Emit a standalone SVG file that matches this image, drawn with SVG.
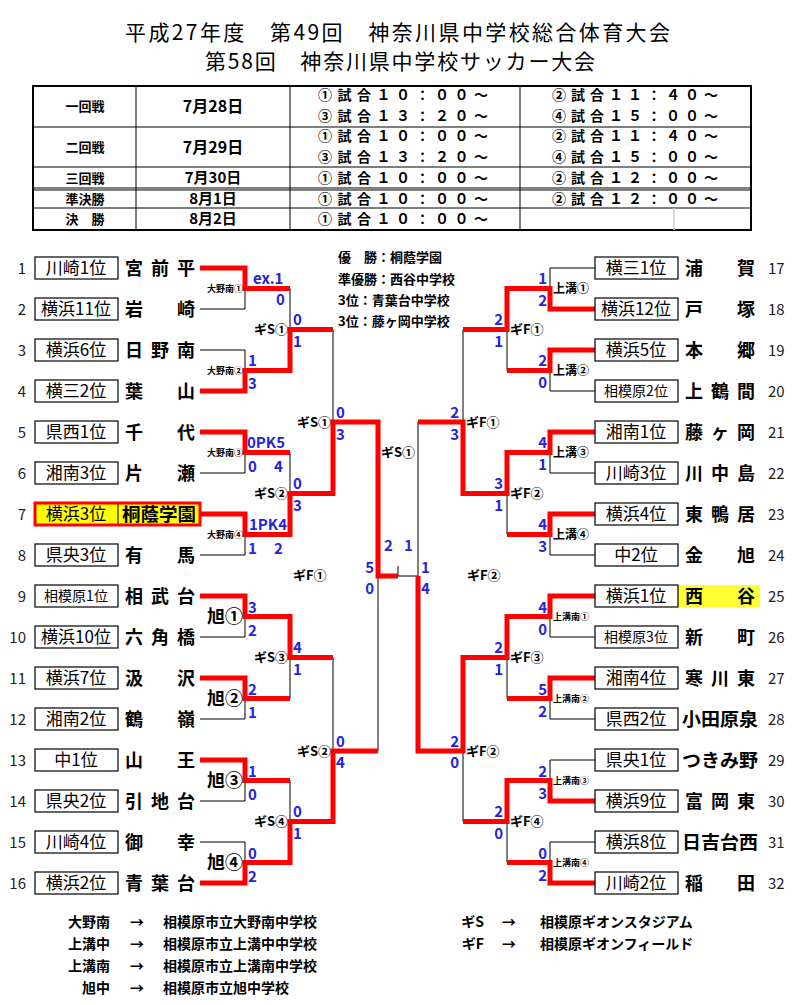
<svg xmlns="http://www.w3.org/2000/svg" width="800" height="1005" viewBox="0 0 800 1005">
<style>
text{font-family:"Noto Sans CJK JP","Liberation Sans",sans-serif;fill:#000}
.t{font-size:21px}
.h{font-size:13px;font-weight:bold}
.d{font-size:16px;font-weight:bold}
.d2{font-size:15px;font-weight:bold}
.g{font-size:14px;font-weight:bold}
.n{font-size:15px;fill:#222}
.bx{font-size:17px;text-anchor:middle}
.bxs{font-size:14px;text-anchor:middle}
.nm{font-size:18px;font-weight:bold}
.s{font-size:15px;font-weight:bold;fill:#2424e0}
.se{font-size:15px;font-weight:bold;fill:#2424e0;text-anchor:end}
.vs{font-size:9px;font-weight:bold}
.vm{font-size:12px;font-weight:bold}
.va{font-size:18px;font-weight:bold}
.v{font-size:13px;font-weight:bold}
.c{font-size:13px;font-weight:bold}
.lg{font-size:14px;font-weight:bold}
.bk{fill:none;stroke:#000;stroke-width:1}
.rd{fill:none;stroke:#ff0000;stroke-width:5;stroke-linejoin:miter}
.box{fill:#fff;stroke:#000;stroke-width:1.2}
</style>
<g id="title">
<text class="t" x="125" y="40" textLength="545" lengthAdjust="spacing">平成27年度　第49回　神奈川県中学校総合体育大会</text>
<text class="t" x="205" y="69" textLength="390" lengthAdjust="spacing">第58回　神奈川県中学校サッカー大会</text>
</g>
<g id="schedule">
<rect x="33" y="86" width="718" height="144" fill="none" stroke="#000" stroke-width="2"/>
<path class="bk" d="M33,127 H751 M33,167 H751 M33,188 H751 M33,190 H751 M33,208 H751 M136,86 V230 M290,86 V230 M520,86 V230"/>
<path d="M674,208 V230" stroke="#ccd" stroke-width="1.5"/>
<text class="h" x="85" y="111" text-anchor="middle">一回戦</text>
<text class="h" x="85" y="152" text-anchor="middle">二回戦</text>
<text class="h" x="85" y="183" text-anchor="middle">三回戦</text>
<text class="h" x="85" y="204" text-anchor="middle">準決勝</text>
<text class="h" x="85" y="224" text-anchor="middle">決　勝</text>
<text class="d" x="213" y="112" text-anchor="middle">7月28日</text>
<text class="d" x="213" y="153" text-anchor="middle">7月29日</text>
<text class="d2" x="213" y="183" text-anchor="middle">7月30日</text>
<text class="d2" x="213" y="204" text-anchor="middle">8月1日</text>
<text class="d2" x="213" y="224" text-anchor="middle">8月2日</text>
<text class="g" x="318" y="100" textLength="170" lengthAdjust="spacing">①試合１０：００～</text>
<text class="g" x="318" y="121" textLength="170" lengthAdjust="spacing">③試合１３：２０～</text>
<text class="g" x="318" y="141" textLength="170" lengthAdjust="spacing">①試合１０：００～</text>
<text class="g" x="318" y="162" textLength="170" lengthAdjust="spacing">③試合１３：２０～</text>
<text class="g" x="318" y="183" textLength="170" lengthAdjust="spacing">①試合１０：００～</text>
<text class="g" x="318" y="204" textLength="170" lengthAdjust="spacing">①試合１０：００～</text>
<text class="g" x="318" y="224" textLength="170" lengthAdjust="spacing">①試合１０：００～</text>
<text class="g" x="552" y="100" textLength="166" lengthAdjust="spacing">②試合１１：４０～</text>
<text class="g" x="552" y="121" textLength="166" lengthAdjust="spacing">④試合１５：００～</text>
<text class="g" x="552" y="141" textLength="166" lengthAdjust="spacing">②試合１１：４０～</text>
<text class="g" x="552" y="162" textLength="166" lengthAdjust="spacing">④試合１５：００～</text>
<text class="g" x="552" y="183" textLength="166" lengthAdjust="spacing">②試合１２：００～</text>
<text class="g" x="552" y="204" textLength="166" lengthAdjust="spacing">②試合１２：００～</text>
</g>
<g id="results">
<text class="h" x="338" y="262" font-size="14">優　勝：桐蔭学園</text>
<text class="c" x="338" y="284" font-size="12">準優勝：西谷中学校</text>
<text class="c" x="338" y="305">3位：青葉台中学校</text>
<text class="c" x="338" y="326">3位：藤ヶ岡中学校</text>
</g>
<g id="connectors">
<path class="bk" d="M200,268 H245 V309 H200 M245,288.5 H290 M200,350 H245 V391 H200 M245,370.5 H290 M200,432 H245 V473 H200 M245,452.5 H290 M200,514 H245 V555 H200 M245,534.5 H290 M200,596 H245 V637 H200 M245,616.5 H290 M200,678 H245 V719 H200 M245,698.5 H290 M200,760 H245 V801 H200 M245,780.5 H290 M200,842 H245 V883 H200 M245,862.5 H290
M290,288.5 V370.5 M290,329.5 H333 M290,452.5 V534.5 M290,493.5 H333 M290,616.5 V698.5 M290,657.5 H333 M290,780.5 V862.5 M290,821.5 H333
M333,329.5 V493.5 M333,422 H378 M333,657.5 V821.5 M333,751 H378 M378,422 V751 M378,576 H418 M398,566 V576 M418,422 V751
M595,268 H550 V309 H595 M550,288.5 H507 M595,350 H550 V391 H595 M550,370.5 H507 M595,432 H550 V473 H595 M550,452.5 H507 M595,514 H550 V555 H595 M550,534.5 H507 M595,596 H550 V637 H595 M550,616.5 H507 M595,678 H550 V719 H595 M550,698.5 H507 M595,760 H550 V801 H595 M550,780.5 H507 M595,842 H550 V883 H595 M550,862.5 H507
M507,288.5 V370.5 M507,329.5 H463 M507,452.5 V534.5 M507,493.5 H463 M507,616.5 V698.5 M507,657.5 H463 M507,780.5 V862.5 M507,821.5 H463
M463,329.5 V493.5 M463,422 H418 M463,657.5 V821.5 M463,751 H418"/>
<path class="rd" d="M200,268 H245 V288.5 H290"/>
<path class="rd" d="M200,391 H245 V370.5 H290 V329.5 H333"/>
<path class="rd" d="M200,432 H245 V452.5 H290"/>
<path class="rd" d="M200,514 H245 V534.5 H290 V493.5 H333 V422 H378 V576 H398"/>
<path class="rd" d="M200,596 H245 V616.5 H290 V657.5 H333"/>
<path class="rd" d="M200,678 H245 V698.5 H290"/>
<path class="rd" d="M200,760 H245 V780.5 H290"/>
<path class="rd" d="M200,883 H245 V862.5 H290 V821.5 H333 V751 H378"/>
<path class="rd" d="M595,309 H550 V288.5 H507 V329.5 H463"/>
<path class="rd" d="M595,350 H550 V370.5 H507"/>
<path class="rd" d="M595,432 H550 V452.5 H507 V493.5 H463 V422 H418"/>
<path class="rd" d="M595,514 H550 V534.5 H507"/>
<path class="rd" d="M595,596 H550 V616.5 H507 V657.5 H463 V751 H418 V576"/>
<path class="rd" d="M595,678 H550 V698.5 H507"/>
<path class="rd" d="M595,801 H550 V780.5 H507 V821.5 H463"/>
<path class="rd" d="M595,883 H550 V862.5 H507"/>
</g>
<g id="scores">
<text class="s" x="253" y="284">ex.1</text><text class="s" x="276" y="305">0</text>
<text class="s" x="248" y="366">1</text><text class="s" x="248" y="389">3</text>
<text class="s" x="247" y="448">0PK5</text><text class="s" x="248" y="472">0</text><text class="s" x="274" y="472">4</text>
<text class="s" x="249" y="530">1PK4</text><text class="s" x="248" y="554">1</text><text class="s" x="274" y="554">2</text>
<text class="s" x="248" y="613">3</text><text class="s" x="248" y="636">2</text>
<text class="s" x="248" y="695">2</text><text class="s" x="248" y="718">1</text>
<text class="s" x="248" y="777">1</text><text class="s" x="248" y="800">0</text>
<text class="s" x="248" y="859">0</text><text class="s" x="248" y="882">2</text>
<text class="s" x="293" y="325">0</text><text class="s" x="293" y="347">1</text>
<text class="s" x="293" y="489">0</text><text class="s" x="293" y="511">3</text>
<text class="s" x="293" y="653">4</text><text class="s" x="293" y="675">1</text>
<text class="s" x="293" y="817">0</text><text class="s" x="293" y="839">1</text>
<text class="s" x="336" y="418">0</text><text class="s" x="336" y="440">3</text>
<text class="s" x="336" y="747">0</text><text class="s" x="336" y="768">4</text>
<text class="se" x="374" y="573">5</text><text class="se" x="374" y="594">0</text>
<text class="s" x="384" y="551">2</text><text class="s" x="404" y="551">1</text>
<text class="s" x="421" y="573">1</text><text class="s" x="421" y="594">4</text>
<text class="se" x="547" y="284">1</text><text class="se" x="547" y="306">2</text>
<text class="se" x="547" y="366">2</text><text class="se" x="547" y="388">0</text>
<text class="se" x="547" y="448">4</text><text class="se" x="547" y="470">1</text>
<text class="se" x="547" y="530">4</text><text class="se" x="547" y="552">3</text>
<text class="se" x="547" y="613">4</text><text class="se" x="547" y="635">0</text>
<text class="se" x="547" y="695">5</text><text class="se" x="547" y="717">2</text>
<text class="se" x="547" y="777">2</text><text class="se" x="547" y="799">3</text>
<text class="se" x="547" y="859">0</text><text class="se" x="547" y="881">2</text>
<text class="se" x="503" y="325">2</text><text class="se" x="503" y="347">1</text>
<text class="se" x="503" y="489">3</text><text class="se" x="503" y="511">1</text>
<text class="se" x="503" y="653">2</text><text class="se" x="503" y="675">1</text>
<text class="se" x="503" y="817">2</text><text class="se" x="503" y="839">0</text>
<text class="se" x="459" y="418">2</text><text class="se" x="459" y="440">3</text>
<text class="se" x="459" y="747">2</text><text class="se" x="459" y="768">0</text>
</g>
<g id="venues">
<text class="vs" x="243" y="292" text-anchor="end">大野南①</text>
<text class="vs" x="243" y="374" text-anchor="end">大野南②</text>
<text class="vs" x="243" y="456" text-anchor="end">大野南③</text>
<text class="vs" x="243" y="538" text-anchor="end">大野南④</text>
<text class="va" x="243" y="623" text-anchor="end">旭①</text>
<text class="va" x="243" y="705" text-anchor="end">旭②</text>
<text class="va" x="243" y="787" text-anchor="end">旭③</text>
<text class="va" x="243" y="869" text-anchor="end">旭④</text>
<text class="v" x="288" y="334" text-anchor="end">ギS①</text>
<text class="v" x="288" y="498" text-anchor="end">ギS②</text>
<text class="v" x="288" y="662" text-anchor="end">ギS③</text>
<text class="v" x="288" y="826" text-anchor="end">ギS④</text>
<text class="v" x="331" y="427" text-anchor="end">ギS①</text>
<text class="v" x="331" y="756" text-anchor="end">ギS②</text>
<text class="v" x="398" y="457" text-anchor="middle">ギS①</text>
<text class="v" x="293" y="580">ギF①</text>
<text class="v" x="467" y="580">ギF②</text>
<text class="vm" x="553" y="293">上溝①</text>
<text class="vm" x="553" y="375">上溝②</text>
<text class="vm" x="553" y="457">上溝③</text>
<text class="vm" x="553" y="539">上溝④</text>
<text class="vs" x="553" y="620">上溝南①</text>
<text class="vs" x="553" y="702">上溝南②</text>
<text class="vs" x="553" y="784">上溝南③</text>
<text class="vs" x="553" y="866">上溝南④</text>
<text class="v" x="510" y="334">ギF①</text>
<text class="v" x="510" y="498">ギF②</text>
<text class="v" x="510" y="662">ギF③</text>
<text class="v" x="510" y="826">ギF④</text>
<text class="v" x="466" y="427">ギF①</text>
<text class="v" x="466" y="756">ギF②</text>
</g>
<g id="team1"><text class="n" x="26" y="274" text-anchor="end">1</text><rect class="box" x="35" y="257" width="83" height="22"/><text class="bx" x="76" y="274">川崎1位</text><text class="nm" x="125" y="275" textLength="70" lengthAdjust="spacing">宮前平</text></g>
<g id="team2"><text class="n" x="26" y="315" text-anchor="end">2</text><rect class="box" x="35" y="298" width="83" height="22"/><text class="bx" x="76" y="315">横浜11位</text><text class="nm" x="125" y="316" textLength="70" lengthAdjust="spacing">岩崎</text></g>
<g id="team3"><text class="n" x="26" y="356" text-anchor="end">3</text><rect class="box" x="35" y="339" width="83" height="22"/><text class="bx" x="76" y="356">横浜6位</text><text class="nm" x="125" y="357" textLength="70" lengthAdjust="spacing">日野南</text></g>
<g id="team4"><text class="n" x="26" y="397" text-anchor="end">4</text><rect class="box" x="35" y="380" width="83" height="22"/><text class="bx" x="76" y="397">横三2位</text><text class="nm" x="125" y="398" textLength="70" lengthAdjust="spacing">葉山</text></g>
<g id="team5"><text class="n" x="26" y="438" text-anchor="end">5</text><rect class="box" x="35" y="421" width="83" height="22"/><text class="bx" x="76" y="438">県西1位</text><text class="nm" x="125" y="439" textLength="70" lengthAdjust="spacing">千代</text></g>
<g id="team6"><text class="n" x="26" y="479" text-anchor="end">6</text><rect class="box" x="35" y="462" width="83" height="22"/><text class="bx" x="76" y="479">湘南3位</text><text class="nm" x="125" y="480" textLength="70" lengthAdjust="spacing">片瀬</text></g>
<g id="team7"><text class="n" x="26" y="520" text-anchor="end">7</text><rect x="35" y="503" width="165" height="22" fill="#ffff00" stroke="#ff0000" stroke-width="3"/><path d="M118,504 V524" stroke="#000" stroke-width="1"/><text class="bx" x="76" y="520">横浜3位</text><text class="nm" x="122" y="521" font-size="16" textLength="74" lengthAdjust="spacingAndGlyphs">桐蔭学園</text></g>
<g id="team8"><text class="n" x="26" y="561" text-anchor="end">8</text><rect class="box" x="35" y="544" width="83" height="22"/><text class="bx" x="76" y="561">県央3位</text><text class="nm" x="125" y="562" textLength="70" lengthAdjust="spacing">有馬</text></g>
<g id="team9"><text class="n" x="26" y="602" text-anchor="end">9</text><rect class="box" x="35" y="585" width="83" height="22"/><text class="bxs" x="76" y="601">相模原1位</text><text class="nm" x="125" y="603" textLength="70" lengthAdjust="spacing">相武台</text></g>
<g id="team10"><text class="n" x="26" y="643" text-anchor="end">10</text><rect class="box" x="35" y="626" width="83" height="22"/><text class="bx" x="76" y="643">横浜10位</text><text class="nm" x="125" y="644" textLength="70" lengthAdjust="spacing">六角橋</text></g>
<g id="team11"><text class="n" x="26" y="684" text-anchor="end">11</text><rect class="box" x="35" y="667" width="83" height="22"/><text class="bx" x="76" y="684">横浜7位</text><text class="nm" x="125" y="685" textLength="70" lengthAdjust="spacing">汲沢</text></g>
<g id="team12"><text class="n" x="26" y="725" text-anchor="end">12</text><rect class="box" x="35" y="708" width="83" height="22"/><text class="bx" x="76" y="725">湘南2位</text><text class="nm" x="125" y="726" textLength="70" lengthAdjust="spacing">鶴嶺</text></g>
<g id="team13"><text class="n" x="26" y="766" text-anchor="end">13</text><rect class="box" x="35" y="749" width="83" height="22"/><text class="bx" x="76" y="766">中1位</text><text class="nm" x="125" y="767" textLength="70" lengthAdjust="spacing">山王</text></g>
<g id="team14"><text class="n" x="26" y="807" text-anchor="end">14</text><rect class="box" x="35" y="790" width="83" height="22"/><text class="bx" x="76" y="807">県央2位</text><text class="nm" x="125" y="808" textLength="70" lengthAdjust="spacing">引地台</text></g>
<g id="team15"><text class="n" x="26" y="848" text-anchor="end">15</text><rect class="box" x="35" y="831" width="83" height="22"/><text class="bx" x="76" y="848">川崎4位</text><text class="nm" x="125" y="849" textLength="70" lengthAdjust="spacing">御幸</text></g>
<g id="team16"><text class="n" x="26" y="889" text-anchor="end">16</text><rect class="box" x="35" y="872" width="83" height="22"/><text class="bx" x="76" y="889">横浜2位</text><text class="nm" x="125" y="890" textLength="70" lengthAdjust="spacing">青葉台</text></g>
<g id="team17"><rect class="box" x="595" y="257" width="83" height="22"/><text class="bx" x="636" y="274">横三1位</text><text class="nm" x="685" y="275" textLength="70" lengthAdjust="spacing">浦賀</text><text class="n" x="768" y="274">17</text></g>
<g id="team18"><rect class="box" x="595" y="298" width="83" height="22"/><text class="bx" x="636" y="315">横浜12位</text><text class="nm" x="685" y="316" textLength="70" lengthAdjust="spacing">戸塚</text><text class="n" x="768" y="315">18</text></g>
<g id="team19"><rect class="box" x="595" y="339" width="83" height="22"/><text class="bx" x="636" y="356">横浜5位</text><text class="nm" x="685" y="357" textLength="70" lengthAdjust="spacing">本郷</text><text class="n" x="768" y="356">19</text></g>
<g id="team20"><rect class="box" x="595" y="380" width="83" height="22"/><text class="bxs" x="636" y="396">相模原2位</text><text class="nm" x="685" y="398" textLength="70" lengthAdjust="spacing">上鶴間</text><text class="n" x="768" y="397">20</text></g>
<g id="team21"><rect class="box" x="595" y="421" width="83" height="22"/><text class="bx" x="636" y="438">湘南1位</text><text class="nm" x="685" y="439" textLength="70" lengthAdjust="spacing">藤ヶ岡</text><text class="n" x="768" y="438">21</text></g>
<g id="team22"><rect class="box" x="595" y="462" width="83" height="22"/><text class="bx" x="636" y="479">川崎3位</text><text class="nm" x="685" y="480" textLength="70" lengthAdjust="spacing">川中島</text><text class="n" x="768" y="479">22</text></g>
<g id="team23"><rect class="box" x="595" y="503" width="83" height="22"/><text class="bx" x="636" y="520">横浜4位</text><text class="nm" x="685" y="521" textLength="70" lengthAdjust="spacing">東鴨居</text><text class="n" x="768" y="520">23</text></g>
<g id="team24"><rect class="box" x="595" y="544" width="83" height="22"/><text class="bx" x="636" y="561">中2位</text><text class="nm" x="685" y="562" textLength="70" lengthAdjust="spacing">金旭</text><text class="n" x="768" y="561">24</text></g>
<g id="team25"><rect x="678" y="585" width="82" height="22" fill="#ffff33"/><rect class="box" x="595" y="585" width="83" height="22" fill="#ffff33"/><text class="bx" x="636" y="602">横浜1位</text><text class="nm" x="685" y="603" textLength="70" lengthAdjust="spacing">西谷</text><text class="n" x="768" y="602">25</text></g>
<g id="team26"><rect class="box" x="595" y="626" width="83" height="22"/><text class="bxs" x="636" y="642">相模原3位</text><text class="nm" x="685" y="644" textLength="70" lengthAdjust="spacing">新町</text><text class="n" x="768" y="643">26</text></g>
<g id="team27"><rect class="box" x="595" y="667" width="83" height="22"/><text class="bx" x="636" y="684">湘南4位</text><text class="nm" x="685" y="685" textLength="70" lengthAdjust="spacing">寒川東</text><text class="n" x="768" y="684">27</text></g>
<g id="team28"><rect class="box" x="595" y="708" width="83" height="22"/><text class="bx" x="636" y="725">県西2位</text><text class="nm" x="682" y="726" textLength="76" lengthAdjust="spacingAndGlyphs">小田原泉</text><text class="n" x="768" y="725">28</text></g>
<g id="team29"><rect class="box" x="595" y="749" width="83" height="22"/><text class="bx" x="636" y="766">県央1位</text><text class="nm" x="682" y="767" textLength="76" lengthAdjust="spacingAndGlyphs">つきみ野</text><text class="n" x="768" y="766">29</text></g>
<g id="team30"><rect class="box" x="595" y="790" width="83" height="22"/><text class="bx" x="636" y="807">横浜9位</text><text class="nm" x="685" y="808" textLength="70" lengthAdjust="spacing">富岡東</text><text class="n" x="768" y="807">30</text></g>
<g id="team31"><rect class="box" x="595" y="831" width="83" height="22"/><text class="bx" x="636" y="848">横浜8位</text><text class="nm" x="682" y="849" textLength="76" lengthAdjust="spacingAndGlyphs">日吉台西</text><text class="n" x="768" y="848">31</text></g>
<g id="team32"><rect class="box" x="595" y="872" width="83" height="22"/><text class="bx" x="636" y="889">川崎2位</text><text class="nm" x="685" y="890" textLength="70" lengthAdjust="spacing">稲田</text><text class="n" x="768" y="889">32</text></g>
<g id="legend">
<text class="lg" x="110" y="927" text-anchor="end">大野南</text><text class="lg" x="130" y="927">→</text><text class="lg" x="163" y="927">相模原市立大野南中学校</text>
<text class="lg" x="110" y="949" text-anchor="end">上溝中</text><text class="lg" x="130" y="949">→</text><text class="lg" x="163" y="949">相模原市立上溝中中学校</text>
<text class="lg" x="110" y="971" text-anchor="end">上溝南</text><text class="lg" x="130" y="971">→</text><text class="lg" x="163" y="971">相模原市立上溝南中学校</text>
<text class="lg" x="110" y="993" text-anchor="end">旭中</text><text class="lg" x="130" y="993">→</text><text class="lg" x="163" y="993">相模原市立旭中学校</text>
<text class="lg" x="484" y="927" text-anchor="end">ギS</text><text class="lg" x="502" y="927">→</text><text class="lg" x="540" y="927">相模原ギオンスタジアム</text>
<text class="lg" x="484" y="949" text-anchor="end">ギF</text><text class="lg" x="502" y="949">→</text><text class="lg" x="540" y="949">相模原ギオンフィールド</text>
</g>
</svg>
